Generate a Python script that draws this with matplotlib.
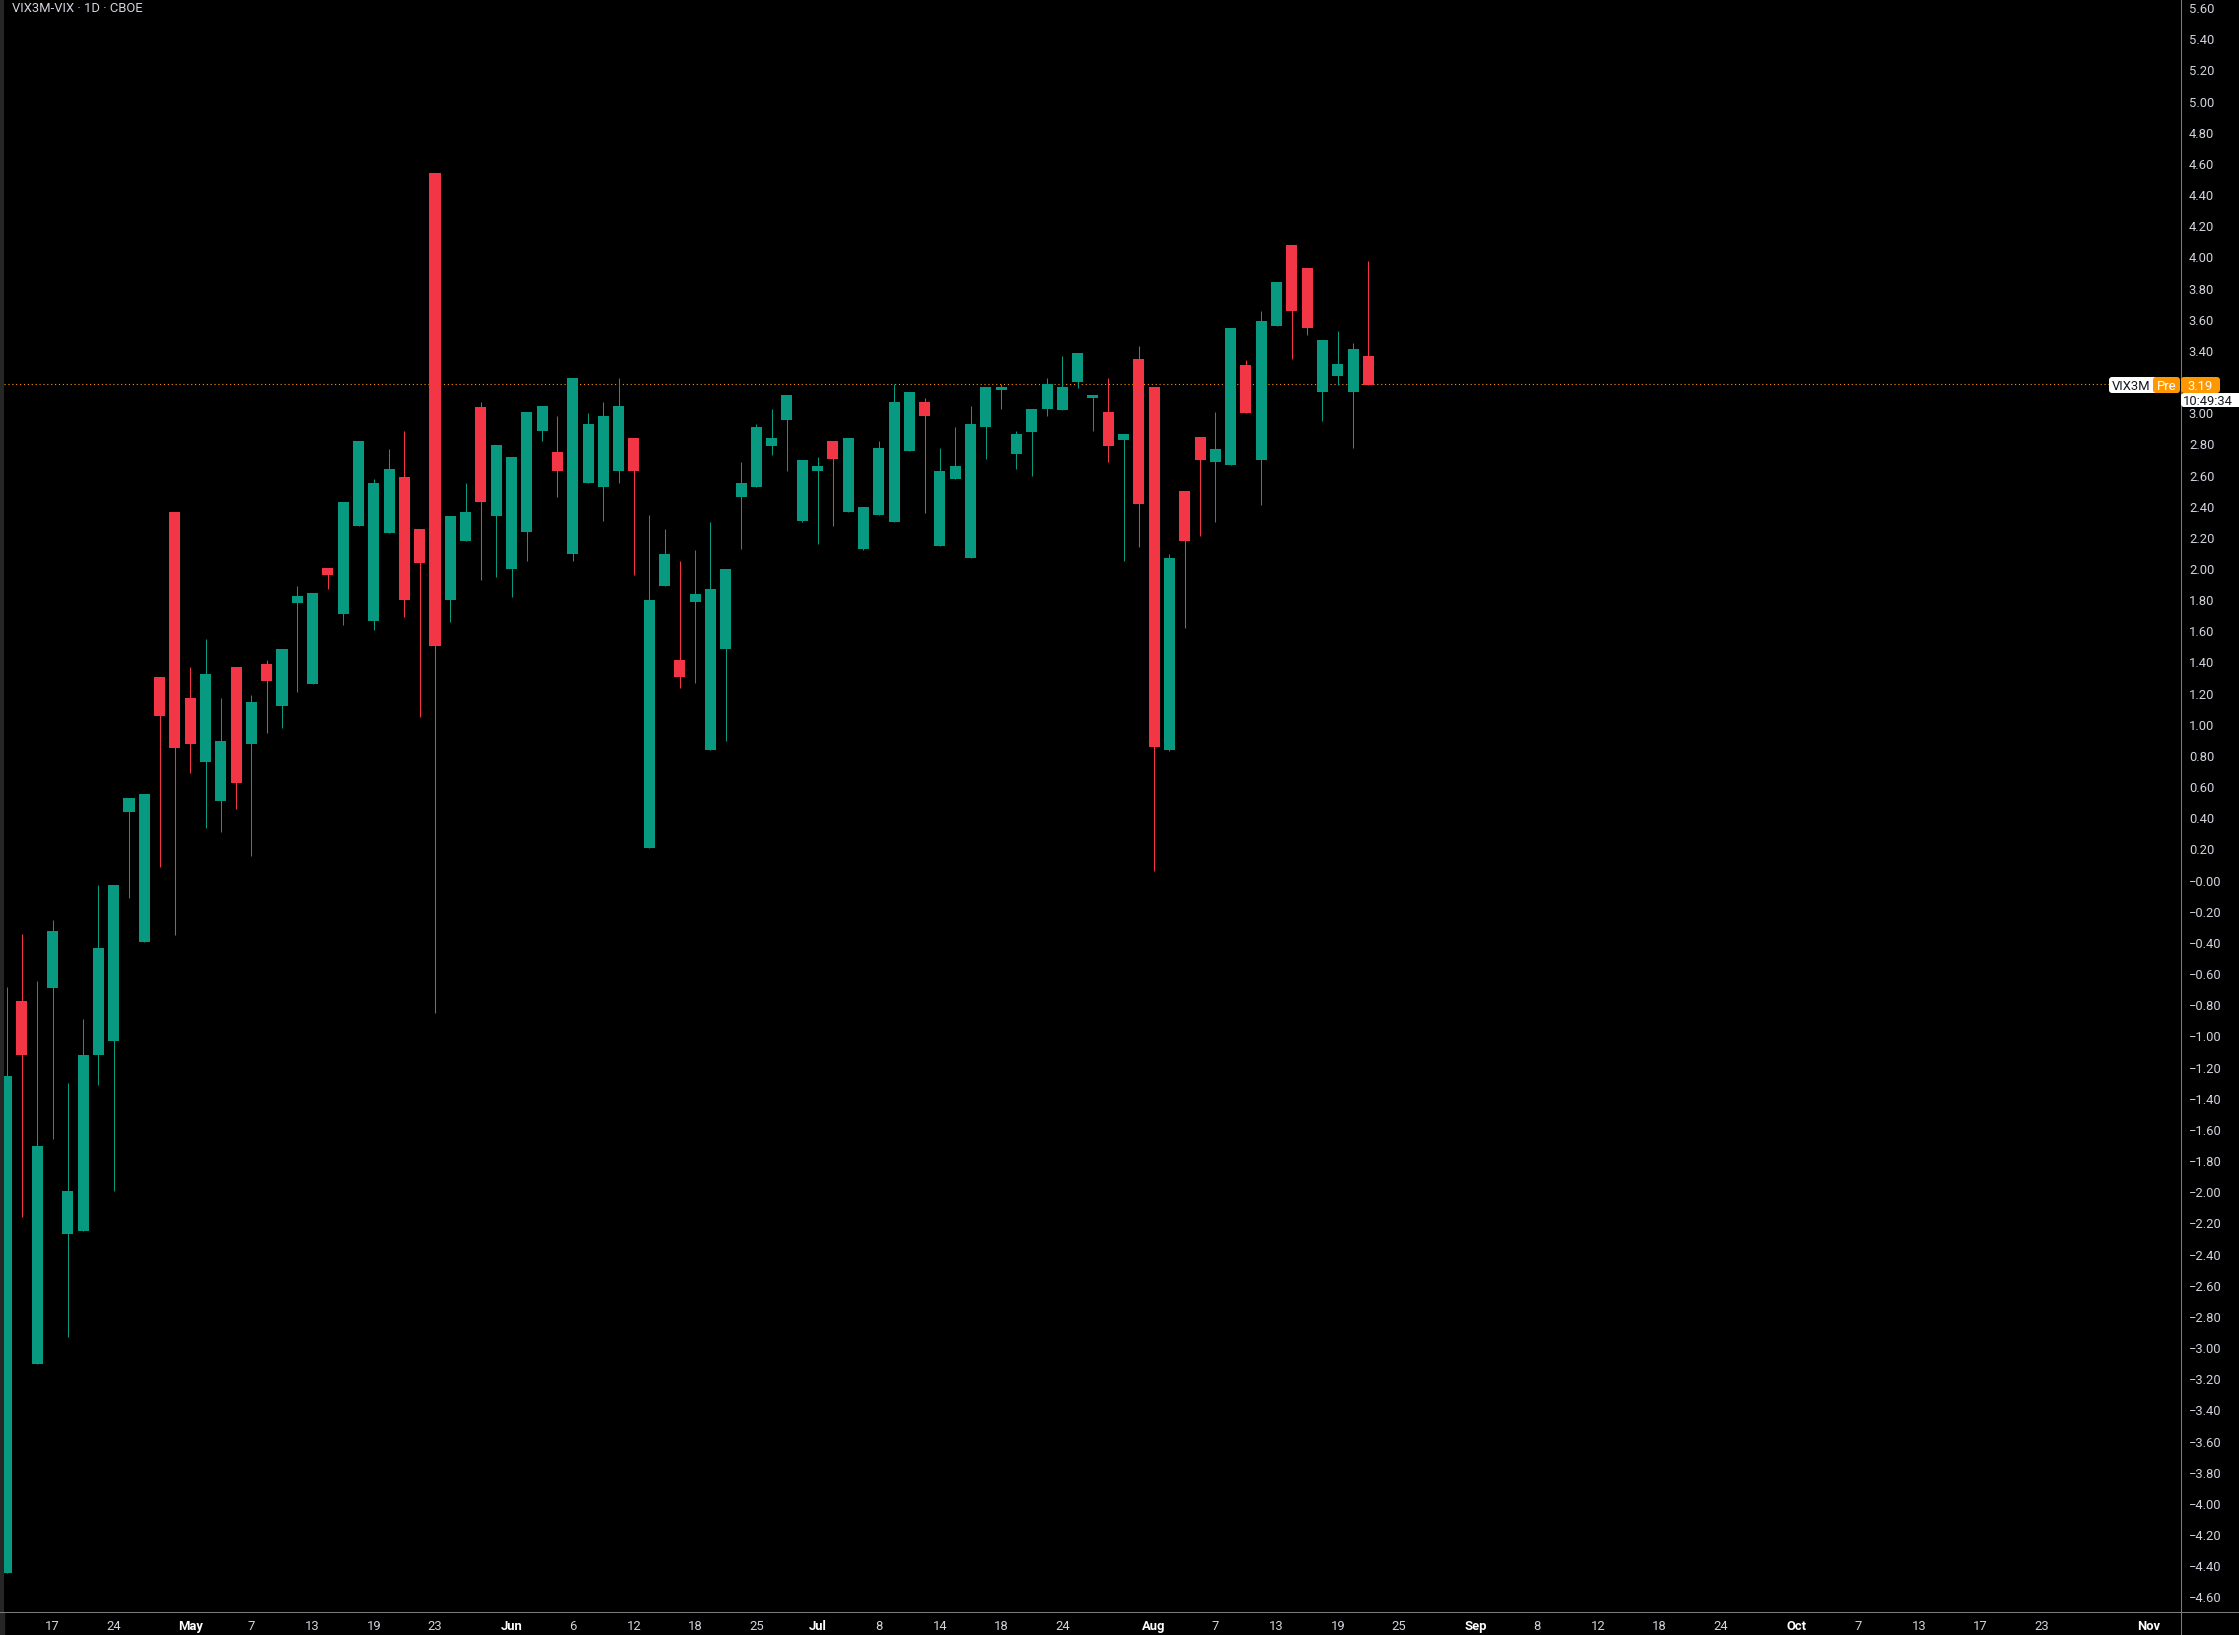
import numpy as np
import pandas as pd
import matplotlib
matplotlib.use("Agg")
import matplotlib.pyplot as plt
from matplotlib.patches import FancyBboxPatch, Rectangle
from matplotlib.lines import Line2D
from matplotlib.transforms import IdentityTransform

plt.rcParams['font.family'] = ['Roboto', 'DejaVu Sans']

# daily OHLC of VIX3M-VIX, Apr 14 2025 .. Aug 21 2025
open_ = [-4.44, -0.77, -3.10, -0.69, -2.27, -2.25, -1.12, -1.03, 0.44, -0.39,
         1.31, 2.37, 1.17, 0.76, 0.51, 1.37, 0.88, 1.39, 1.12, 1.78,
         1.26, 2.01, 1.71, 2.28, 1.67, 2.23, 2.59, 2.26, 4.54, 1.80,
         2.18, 3.04, 2.34, 2.00, 2.24, 2.89, 2.75, 2.10, 2.55, 2.53,
         2.63, 2.84, 0.21, 1.89, 1.42, 1.79, 0.84, 1.49, 2.46, 2.53,
         2.79, 2.96, 2.31, 2.63, 2.82, 2.37, 2.13, 2.35, 2.30, 2.76,
         3.07, 2.15, 2.58, 2.07, 2.91, 3.15, 2.74, 2.88, 3.03, 3.02,
         3.20, 3.10, 3.01, 2.83, 3.35, 3.17, 0.84, 2.50, 2.85, 2.69,
         2.67, 3.31, 2.70, 3.56, 4.08, 3.93, 3.14, 3.24, 3.14, 3.37]
high = [-0.68, -0.34, -0.64, -0.25, -1.30, -0.89, -0.03, -0.03, 0.53, 0.56,
        1.31, 2.37, 1.37, 1.55, 1.17, 1.37, 1.19, 1.42, 1.49, 1.89,
        1.85, 2.01, 2.43, 2.82, 2.58, 2.77, 2.89, 2.26, 4.54, 2.34,
        2.55, 3.07, 2.80, 2.72, 3.01, 3.05, 2.98, 3.23, 3.00, 3.07,
        3.23, 2.84, 2.35, 2.26, 2.05, 2.12, 2.30, 2.00, 2.69, 2.93,
        3.03, 3.12, 2.70, 2.72, 2.82, 2.84, 2.40, 2.82, 3.19, 3.14,
        3.10, 2.78, 2.91, 3.05, 3.17, 3.19, 2.89, 3.03, 3.23, 3.37,
        3.39, 3.12, 3.23, 2.87, 3.43, 3.17, 2.10, 2.50, 2.85, 3.01,
        3.55, 3.34, 3.66, 3.84, 4.08, 3.93, 3.47, 3.53, 3.45, 3.98]
low = [-4.44, -2.16, -3.10, -1.66, -2.93, -2.25, -1.31, -1.99, -0.11, -0.39,
       0.09, -0.35, 0.69, 0.34, 0.31, 0.46, 0.16, 0.95, 0.98, 1.21,
       1.26, 1.87, 1.64, 2.28, 1.61, 2.23, 1.69, 1.05, -0.85, 1.66,
       2.18, 1.93, 1.95, 1.82, 2.05, 2.82, 2.46, 2.05, 2.55, 2.31,
       2.55, 1.96, 0.21, 1.89, 1.24, 1.27, 0.84, 0.90, 2.13, 2.53,
       2.73, 2.63, 2.30, 2.16, 2.28, 2.37, 2.12, 2.35, 2.30, 2.76,
       2.36, 2.15, 2.58, 2.07, 2.71, 3.03, 2.64, 2.60, 2.98, 3.02,
       3.16, 2.89, 2.69, 2.05, 2.14, 0.06, 0.83, 1.62, 2.21, 2.30,
       2.67, 3.00, 2.41, 3.56, 3.35, 3.50, 2.95, 3.18, 2.78, 3.18]
close = [-1.25, -1.12, -1.70, -0.32, -1.99, -1.12, -0.43, -0.03, 0.53, 0.56,
         1.06, 0.85, 0.88, 1.33, 0.90, 0.63, 1.15, 1.28, 1.49, 1.83,
         1.85, 1.96, 2.43, 2.82, 2.55, 2.64, 1.80, 2.04, 1.51, 2.34,
         2.37, 2.43, 2.80, 2.72, 3.01, 3.05, 2.63, 3.23, 2.93, 2.98,
         3.05, 2.63, 1.80, 2.10, 1.31, 1.84, 1.87, 2.00, 2.55, 2.91,
         2.84, 3.12, 2.70, 2.66, 2.71, 2.84, 2.40, 2.78, 3.07, 3.14,
         2.98, 2.63, 2.66, 2.93, 3.17, 3.17, 2.87, 3.03, 3.19, 3.17,
         3.39, 3.12, 2.79, 2.87, 2.42, 0.86, 2.07, 2.18, 2.70, 2.77,
         3.55, 3.00, 3.59, 3.84, 3.66, 3.55, 3.47, 3.32, 3.41, 3.18]

last_price = 3.19

holidays = ['2025-04-18', '2025-05-26', '2025-06-19', '2025-07-04', '2025-09-01']
tick_dates = ['2025-04-17', '2025-04-24', '2025-05-01', '2025-05-07', '2025-05-13',
              '2025-05-19', '2025-05-23', '2025-06-02', '2025-06-06', '2025-06-12',
              '2025-06-18', '2025-06-25', '2025-07-01', '2025-07-08', '2025-07-14',
              '2025-07-18', '2025-07-24', '2025-08-01', '2025-08-07', '2025-08-13',
              '2025-08-19', '2025-08-25', '2025-09-02', '2025-09-08', '2025-09-12',
              '2025-09-18', '2025-09-24', '2025-10-01', '2025-10-07', '2025-10-13',
              '2025-10-17', '2025-10-23', '2025-11-03']
tick_labels = ['17', '24', 'May', '7', '13', '19', '23', 'Jun', '6', '12', '18', '25',
               'Jul', '8', '14', '18', '24', 'Aug', '7', '13', '19', '25', 'Sep', '8',
               '12', '18', '24', 'Oct', '7', '13', '17', '23', 'Nov']
months = ['May', 'Jun', 'Jul', 'Aug', 'Sep', 'Oct', 'Nov']

W, H, DPI = 2239, 1635, 100
BG = '#000000'
UP = '#089981'
DOWN = '#F23645'
ORANGE = '#FF9800'
TXT = '#D1D4DC'
AXLINE = '#7a7a7a'

calendar = pd.bdate_range('2025-04-14', '2025-11-10', freq='C', holidays=holidays)
x = np.arange(len(close))
o = np.array(open_)
h = np.array(high)
l = np.array(low)
c = np.array(close)
up = c >= o

fig = plt.figure(figsize=(W / DPI, H / DPI), dpi=DPI, facecolor=BG)
ax = fig.add_axes([4 / W, (H - 1612) / H, 2176 / W, 1612 / H])
ax.set_facecolor(BG)

cols = np.where(up, UP, DOWN)
ax.vlines(x, l, h, colors=cols, linewidth=0.75, zorder=2)
body_lo = np.minimum(o, c)
body_h = np.maximum(np.abs(c - o), 0.008)
ax.bar(x, body_h, bottom=body_lo, width=0.72, color=cols, linewidth=0, zorder=3)

ax.axhline(last_price, color=ORANGE, linewidth=0.8, linestyle=(0, (1, 2.5)), zorder=1)

ax.set_xlim(-0.17, 142.05)
ax.set_ylim(-4.693, 5.653)
ax.set_xticks([])
ax.set_yticks([])
for s in ax.spines.values():
    s.set_visible(False)

# price scale labels on the right
yvals = np.round(np.arange(-4.6, 5.61, 0.2), 2)
for v in yvals:
    if abs(v - 3.2) < 1e-6:
        continue
    lab = f"{abs(v):.2f}"
    if v <= 0:
        lab = "\u2212" + lab
    ax.text(1.0041, v - 0.031, lab, transform=ax.get_yaxis_transform(),
            ha='left', va='baseline', fontsize=9.4, color=TXT, clip_on=False)

# time scale labels
for d, lab in zip(tick_dates, tick_labels):
    pos = calendar.get_loc(pd.Timestamp(d))
    bold = lab in months
    ax.text(pos, -0.0112, lab, transform=ax.get_xaxis_transform(),
            ha='center', va='baseline', fontsize=9.4,
            color='#FFFFFF' if bold else TXT,
            fontweight='bold' if bold else 'normal', clip_on=False)

# frame lines
idt = IdentityTransform()
fig.add_artist(Rectangle((0, 0), 4, H, transform=idt, color='#262626', zorder=0))
fig.add_artist(Line2D([2180.5, 2180.5], [0, H], transform=idt, color=AXLINE, linewidth=0.75))
fig.add_artist(Line2D([0, W], [H - 1611.5, H - 1611.5], transform=idt, color=AXLINE, linewidth=0.75))

fig.text(12, H - 11.5, "VIX3M-VIX \u00b7 1D \u00b7 CBOE", transform=idt,
         ha='left', va='baseline', fontsize=9.4, color=TXT)


def box(x0, y0, x1, y1, color, text, tcolor, cx=None):
    fig.add_artist(FancyBboxPatch((x0, H - y1), x1 - x0, y1 - y0,
                                  boxstyle="round,pad=0,rounding_size=3",
                                  transform=idt, facecolor=color, edgecolor='none', zorder=5))
    fig.text((x0 + x1) / 2 if cx is None else cx, H - (y0 + y1) / 2 - 4.6, text,
             transform=idt, ha='center', va='baseline', fontsize=9.4,
             color=tcolor, zorder=6)


box(2109, 377, 2160, 393, '#FFFFFF', 'VIX3M', '#131722', cx=2131)
box(2153, 377, 2180, 393, ORANGE, 'Pre', '#FFFFFF')
box(2181, 377, 2220, 393, ORANGE, '3.19', '#FFFFFF')
box(2181, 393, 2245, 407, '#FFFFFF', '10:49:34', '#131722', cx=2208)

fig.savefig("out.png", dpi=DPI, facecolor=BG)
